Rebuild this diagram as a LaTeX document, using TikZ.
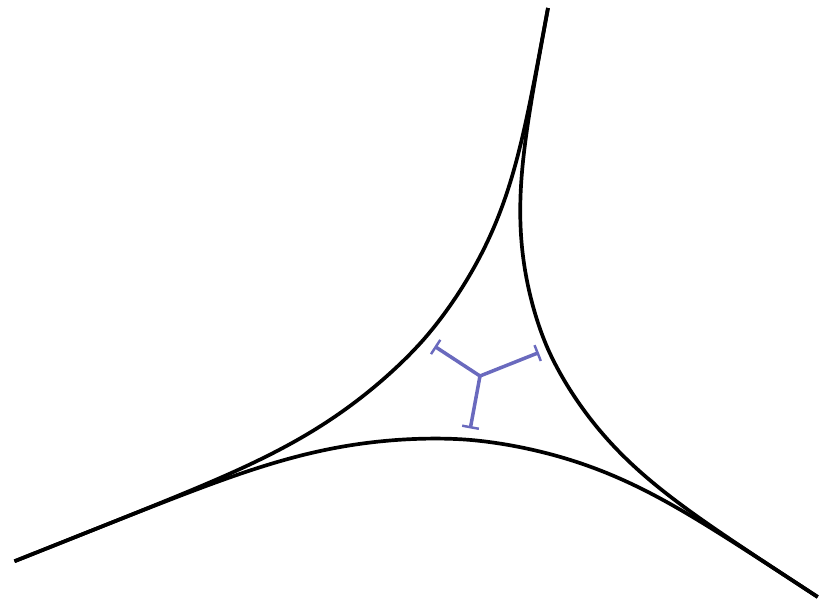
\documentclass[tikz,border=0pt]{standalone}
\usepackage{tikz}
\usetikzlibrary{arrows.meta}
\definecolor{spineBlue}{HTML}{6A6ABE}
\tikzset{
  declare function={
    rim(\t)=max(0,\t)+ln(1+exp(-abs(\t)))*exp(-0.075*abs(\t)*abs(\t)*abs(\t));
  },
  amoebaEdge/.style={
    draw=black, line width=2.1pt, samples=260, smooth
  },
  spineArm/.style={
    draw=spineBlue, line width=2pt,
    -{Bar[width=3.4mm,line width=1.4pt]}
  }
}

\begin{document}
\begin{tikzpicture}[x={(1.96cm,0.78cm)}, y={(-0.34cm,-1.84cm)}]

% ── frame ──────────────────────────────────────────────────────────
\useasboundingbox (-9.6cm,-4.72cm) rectangle (6.82cm,7.52cm);

% ── amoeba boundary ────────────────────────────────────────────────
% branch between left and diagonal tentacles
\draw[amoebaEdge, variable=\t, domain=-4.75:4.17]
  plot ({\t},{rim(\t)});
% branch between left and down tentacles
\draw[amoebaEdge, variable=\t, domain=-4.75:4.0]
  plot ({\t-rim(\t)},{-rim(\t)});
% branch between down and diagonal tentacles
\draw[amoebaEdge, variable=\t, domain=-4.0:4.17]
  plot ({rim(\t)},{\t});

% ── spine ──────────────────────────────────────────────────────────
\coordinate (O) at (0,0);
\draw[spineArm] (O) -- (-0.56,-0.56);
\draw[spineArm] (O) -- (0.6,0);
\draw[spineArm] (O) -- (0,0.57);

\end{tikzpicture}
\end{document}
